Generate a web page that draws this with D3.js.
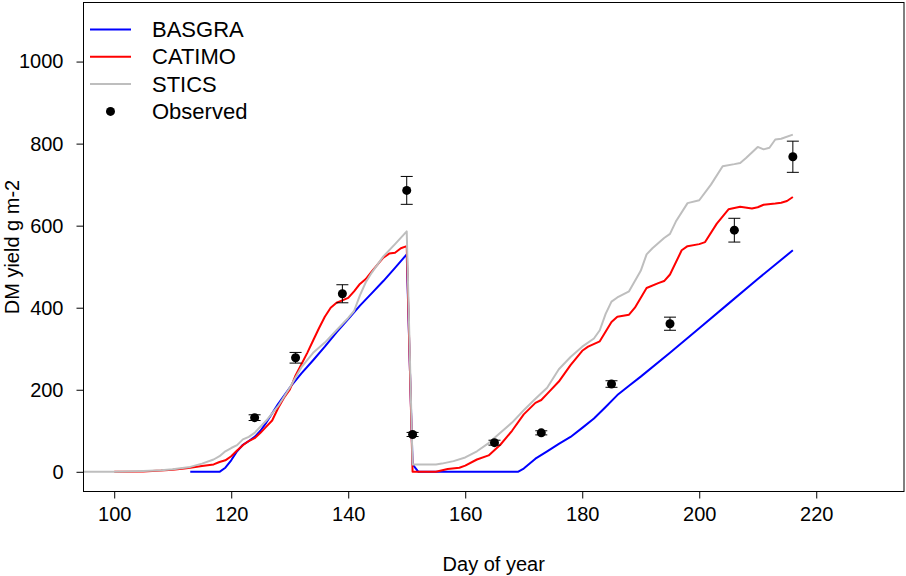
<!DOCTYPE html>
<html>
<head>
<meta charset="utf-8">
<script src="https://cdn.jsdelivr.net/npm/d3@7"></script>
<style>
  body { margin: 0; background: #fff; }
  text { font-family: "Liberation Sans", Arial, sans-serif; fill: #000; }
  .line { fill: none; stroke-width: 2; stroke-linejoin: round; }
</style>
</head>
<body>
<script>
// Model series (day of year, DM yield g m-2)
var basgraDay = [113,118,119,120,121,122,123,124,125,126,128,130,132,134,136,138,140,142,144,146,148,150,151,152,169,170,172,174,176,178,180,182,184,186,188,190,195,200,205,210,216];
var basgraVal = [0,0,10,28,50,66,75,85,100,120,165,205,240,272,305,340,372,405,435,465,497,530,18,0,0,8,32,50,68,85,107,130,158,187,210,232,290,350,410,470,540];

var catimoDay = [100,105,108,110,112,113,115,117,118,119,120,121,122,123,124,125,126,127,128,129,130,131,132,133,134,135,136,137,138,139,140,141,142,143,144,145,146,147,148,149,150,151,155,157,159,160,162,164,166,168,170,172,173,174,176,178,180,181,183,185,186,188,189,191,193,194,195,197,198,200,201,203,205,207,209,210,211,213,214,215,216];
var catimoVal = [0,1,3,5,8,10,14,18,24,28,38,52,65,75,82,95,110,125,155,180,200,235,262,290,320,350,378,400,412,418,424,440,458,470,488,505,522,532,534,545,550,0,0,7,10,15,30,40,66,100,140,168,175,190,220,260,295,305,318,365,378,383,400,448,460,465,481,540,550,555,560,605,640,646,642,645,651,654,656,660,670];

var sticsDay = [90,100,105,108,110,112,113,115,117,118,119,120,121,122,123,124,126,128,130,132,134,136,138,140,141,142,143,144,146,148,150,151,152,155,156,158,160,162,164,166,168,170,172,174,176,178,180,182,183,184,185,186,188,190,191,192,194,195,196,198,200,202,204,206,207,208,210,211,212,213,214,216];
var sticsVal = [0,0,2,4,6,10,12,20,30,38,50,58,65,79,85,95,125,160,205,255,290,315,345,375,392,430,462,485,525,555,586,18,18,18,20,26,35,50,70,95,120,150,178,205,250,280,305,325,345,385,415,425,440,490,530,545,570,580,610,655,662,700,745,750,753,765,792,786,790,810,812,822];

// Observations with error bars
var obsDay = [124,131,139,150,151,165,173,185,195,206,216];
var obsVal = [132,278,434,686,91,71,95,214,361,589,768];
var obsErr = [7,13,22,34,5,6,5,8,16,29,38];

var xTicks = [100,120,140,160,180,200,220];
var yTicks = [0,200,400,600,800,1000];

var legendNames = ["BASGRA","CATIMO","STICS","Observed"];
var seriesColors = ["#0000ff","#ff0000","#bebebe"];

var width = 906, height = 576;
var plot = {left: 83.5, right: 904, top: 2.5, bottom: 491.5};

var x = d3.scaleLinear().domain([94.75, 235]).range([plot.left, plot.right]);
var y = d3.scaleLinear().domain([-48, 1144]).range([plot.bottom, plot.top]);

var svg = d3.select("body")
    .append("svg")
        .attr("width", width)
        .attr("height", height);

svg.append("clipPath")
    .attr("id", "clip")
  .append("rect")
    .attr("x", plot.left)
    .attr("y", plot.top)
    .attr("width", plot.right - plot.left)
    .attr("height", plot.bottom - plot.top);

var line = d3.line()
    .x(function(d) { return x(d[0]); })
    .y(function(d) { return y(d[1]); });

var series = [
  d3.zip(basgraDay, basgraVal),
  d3.zip(catimoDay, catimoVal),
  d3.zip(sticsDay, sticsVal)
];

var g = svg.append("g").attr("clip-path", "url(#clip)");

series.forEach(function(s, i) {
  g.append("path")
      .attr("class", "line")
      .style("stroke", seriesColors[i])
      .attr("d", line(s));
});

// observed points + error bars
var obs = d3.zip(obsDay, obsVal, obsErr);
var bars = g.selectAll(".err").data(obs).enter().append("g").attr("class", "err");
bars.append("line")
    .attr("x1", function(d) { return x(d[0]); })
    .attr("x2", function(d) { return x(d[0]); })
    .attr("y1", function(d) { return y(d[1] - d[2]); })
    .attr("y2", function(d) { return y(d[1] + d[2]); })
    .attr("stroke", "#000");
[-1, 1].forEach(function(sgn) {
  bars.append("line")
      .attr("x1", function(d) { return x(d[0]) - 6; })
      .attr("x2", function(d) { return x(d[0]) + 6; })
      .attr("y1", function(d) { return y(d[1] + sgn * d[2]); })
      .attr("y2", function(d) { return y(d[1] + sgn * d[2]); })
      .attr("stroke", "#000");
});
bars.append("circle")
    .attr("cx", function(d) { return x(d[0]); })
    .attr("cy", function(d) { return y(d[1]); })
    .attr("r", 4.5)
    .attr("fill", "#000");

// axes
svg.append("g")
    .attr("transform", "translate(0," + plot.bottom + ")")
    .call(d3.axisBottom(x).tickValues(xTicks).tickSize(7).tickPadding(8).tickFormat(d3.format("d")))
    .call(function(a) {
      a.select(".domain").remove();
      a.selectAll("line").attr("stroke", "#000");
      a.selectAll("text").style("font-size", "20px").style("font-family", "Liberation Sans, Arial, sans-serif");
    });

svg.append("g")
    .attr("transform", "translate(" + plot.left + ",0)")
    .call(d3.axisLeft(y).tickValues(yTicks).tickSize(7).tickPadding(13).tickFormat(d3.format("d")))
    .call(function(a) {
      a.select(".domain").remove();
      a.selectAll("line").attr("stroke", "#000");
      a.selectAll("text").style("font-size", "20px").style("font-family", "Liberation Sans, Arial, sans-serif");
    });

// plot box
svg.append("rect")
    .attr("x", plot.left)
    .attr("y", plot.top)
    .attr("width", plot.right - plot.left)
    .attr("height", plot.bottom - plot.top)
    .attr("fill", "none")
    .attr("stroke", "#000");

// axis titles
svg.append("text")
    .attr("x", (plot.left + plot.right) / 2)
    .attr("y", 571)
    .attr("text-anchor", "middle")
    .style("font-size", "20px")
    .text("Day of year");

svg.append("text")
    .attr("transform", "translate(19," + (plot.top + plot.bottom) / 2 + ") rotate(-90)")
    .attr("text-anchor", "middle")
    .style("font-size", "20px")
    .text("DM yield g m-2");

// legend
var legend = svg.append("g");
legendNames.forEach(function(name, i) {
  var ly = 29.5 + i * 27.3;
  if (i < 3) {
    legend.append("line")
        .attr("x1", 90).attr("x2", 131)
        .attr("y1", ly).attr("y2", ly)
        .attr("stroke", seriesColors[i])
        .attr("stroke-width", 2);
  } else {
    legend.append("circle")
        .attr("cx", 110.5).attr("cy", ly)
        .attr("r", 4.5)
        .attr("fill", "#000");
  }
  legend.append("text")
      .attr("x", 152)
      .attr("y", ly + 7.5)
      .style("font-size", "22px")
      .text(name);
});
</script>
</body>
</html>
